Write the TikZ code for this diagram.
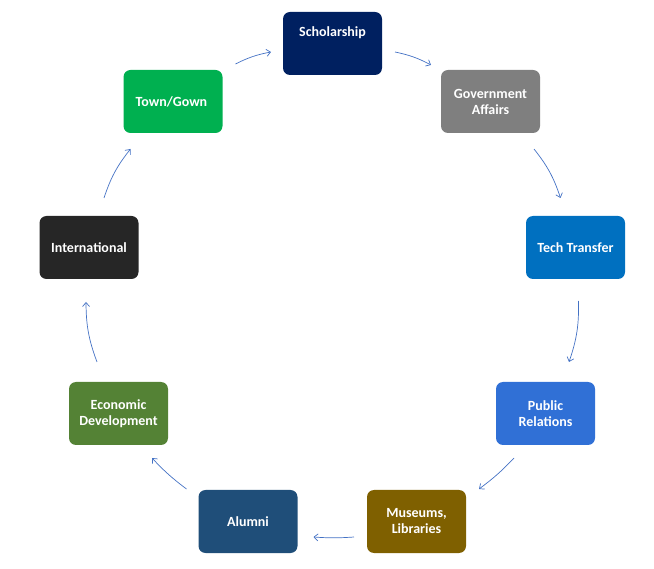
\documentclass[tikz,border=0pt]{standalone}
\usepackage{fontspec}
\setmainfont{Carlito}
\usetikzlibrary{positioning,arrows.meta}
\definecolor{linkblue}{HTML}{4472C4}
\definecolor{navy}{HTML}{002060}
\definecolor{slate}{HTML}{7F7F7F}
\definecolor{ocean}{HTML}{0070C0}
\definecolor{sky}{HTML}{3070D6}
\definecolor{bronze}{HTML}{7F6000}
\definecolor{steel}{HTML}{1F4E79}
\definecolor{moss}{HTML}{548235}
\definecolor{coal}{HTML}{262626}
\definecolor{grass}{HTML}{00B050}

\begin{document}
\begin{tikzpicture}[x=1pt,y=1pt,
  box/.style={fill=#1,rounded corners=7pt,minimum width=99pt,minimum height=63pt,
    inner sep=0pt,outer sep=0pt,text=white,align=center,
    font=\bfseries\fontsize{14}{16}\selectfont},
  link/.style={draw=linkblue,line width=0.7pt,-{Straight Barb[length=4pt,width=7pt]}}]
\useasboundingbox (0,0) rectangle (654,-569);
% the ring of offices
\foreach \x/\y/\c/\t[count=\j from 1] in {
  332.5/43.5/navy/{Scholarship\\[7pt]~},
  490.5/101.5/slate/{Government\\Affairs},
  575.5/247.5/ocean/{Tech Transfer},
  545.5/413.5/sky/{Public\\Relations},
  416.5/521.5/bronze/{Museums,\\Libraries},
  248/521.5/steel/{Alumni},
  118.5/413.5/moss/{Economic\\Development},
  89/247.5/coal/{International},
  173/101.5/grass/{Town/Gown}
}
\node[box=\c](\j) at(\x,-\y){\t};
% arrows, clockwise
\foreach \a/\p/\b/\q/\k in {
  9.north east/{(13,6)}/1.west/{(-12,-8.5)}/8,
  1.east/{(13,-8.5)}/2.north west/{(-10,5)}/8,
  2.south east/{(-6,-16)}/3.north/{(-15,18)}/10,
  3.south/{(3,-22)}/4.north/{(23.5,20)}/10,
  4.south/{(-31.5,-13)}/5.north east/{(13,1)}/5,
  5.west/{(-13,-15.5)}/6.east/{(16,-15.5)}/4,
  6.north west/{(-12,1)}/7.south/{(33.5,-13)}/5,
  7.north/{(-21.5,20)}/8.south/{(-3,-23)}/10,
  8.north/{(15,18)}/9.south west/{(7,-16)}/10
}
\draw[link]([shift={\p}]\a) to[bend left=\k] ([shift={\q}]\b);
\end{tikzpicture}
\end{document}
